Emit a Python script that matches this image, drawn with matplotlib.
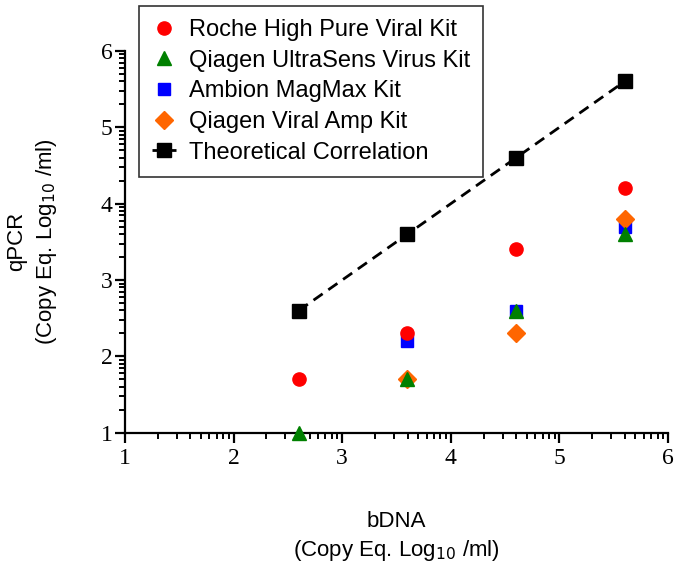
import numpy as np
import matplotlib.pyplot as plt
from matplotlib.ticker import FixedLocator

# data
bdna = [2.6, 3.6, 4.6, 5.6]
roche = [1.7, 2.3, 3.4, 4.2]
ultrasens = [1.0, 1.7, 2.6, 3.6]
magmax = [np.nan, 2.2, 2.6, 3.7]
viral_amp = [np.nan, 1.7, 2.3, 3.8]
theoretical = [2.6, 3.6, 4.6, 5.6]

fig = plt.figure(figsize=(6.79, 5.65), dpi=100)
ax = fig.add_axes([0.184, 0.234, 0.800, 0.676])

ms = 9.5
# drawing order chosen so overlaps look like the original
ax.plot(bdna, magmax, 's', color='#0000ff', ms=ms - 0.5, label='Ambion MagMax Kit', zorder=3, clip_on=False)
ax.plot(bdna, viral_amp, 'D', color='#ff6600', ms=ms - 0.5, label='Qiagen Viral Amp Kit', zorder=4, clip_on=False)
ax.plot(bdna, ultrasens, '^', color='#008000', ms=ms + 1, label='Qiagen UltraSens Virus Kit', zorder=5, clip_on=False)
ax.plot(bdna, roche, 'o', color='#ff0000', ms=ms, label='Roche High Pure Viral Kit', zorder=6, clip_on=False)
ax.plot(bdna, theoretical, 's--', color='black', ms=ms, lw=2, dashes=(4, 2.5),
        label='Theoretical Correlation', zorder=7, clip_on=False)

ax.set_xlim(1, 6)
ax.set_ylim(1, 6)
ax.spines['top'].set_visible(False)
ax.spines['right'].set_visible(False)
for s in ['left', 'bottom']:
    ax.spines[s].set_linewidth(1.6)

ax.set_xticks([1, 2, 3, 4, 5, 6])
ax.set_yticks([1, 2, 3, 4, 5, 6])
minor = [d + np.log10(k) for d in range(1, 6) for k in range(2, 10)]
ax.xaxis.set_minor_locator(FixedLocator(minor))
ax.yaxis.set_minor_locator(FixedLocator(minor))
ax.tick_params(which='major', direction='out', length=7, width=1.6)
ax.tick_params(which='minor', direction='out', length=4, width=1.4)
for lab in ax.get_xticklabels() + ax.get_yticklabels():
    lab.set_fontfamily('Liberation Serif')
    lab.set_fontsize(17)
ax.tick_params(axis='x', pad=4)
ax.tick_params(axis='y', pad=2)

ax.set_xlabel('bDNA\n(Copy Eq. Log$_{10}$ /ml)', fontfamily='Liberation Sans',
              fontsize=16, labelpad=30, linespacing=1.35)
ax.set_ylabel('qPCR\n(Copy Eq. Log$_{10}$ /ml)', fontfamily='Liberation Sans',
              fontsize=16, labelpad=30, linespacing=1.35)

h, l = ax.get_legend_handles_labels()
order = [3, 2, 0, 1, 4]
leg = ax.legend([h[i] for i in order], [l[i] for i in order], loc='upper left',
                bbox_to_anchor=(0.026, 1.118), borderaxespad=0, frameon=True, fancybox=False,
                prop={'family': 'Liberation Sans', 'size': 17}, handlelength=1.0,
                handletextpad=0.55, labelspacing=0.37, borderpad=0.55)
leg.get_frame().set_edgecolor('black')
leg.get_frame().set_linewidth(1.2)

fig.savefig('out.png', dpi=100)
